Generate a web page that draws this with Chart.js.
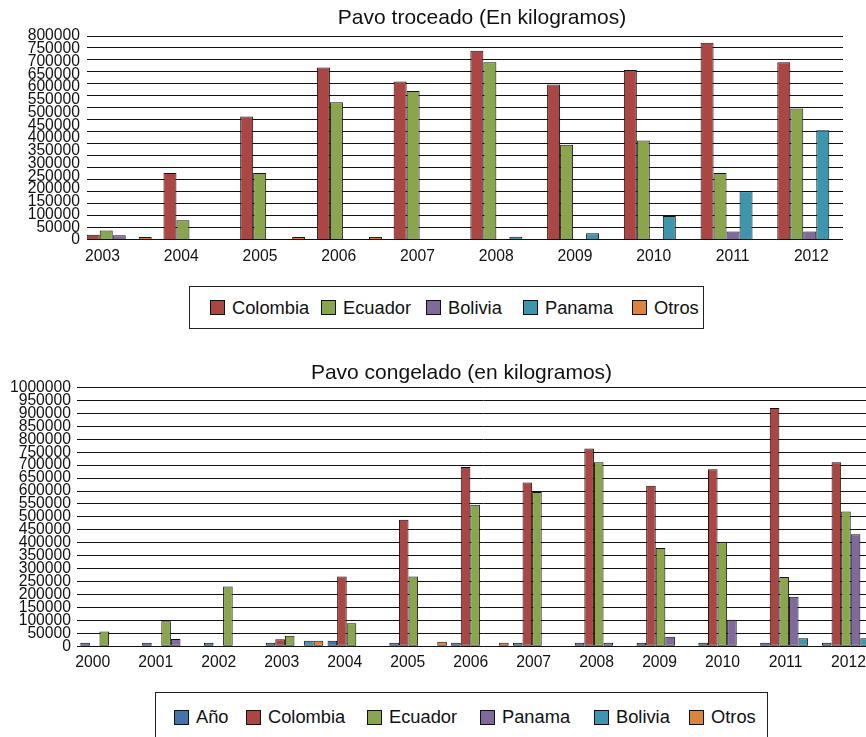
<!DOCTYPE html>
<html>
<head>
<meta charset="utf-8">
<script src="https://cdn.jsdelivr.net/npm/chart.js@4.4.1/dist/chart.umd.min.js"></script>
<style>
  html, body { margin: 0; padding: 0; background: #fff; }
  body { width: 866px; height: 737px; overflow: hidden; position: relative;
         font-family: "Liberation Sans", Arial, sans-serif; color: #111; }
  canvas { position: absolute; left: 0; }
  #c1 { top: 0; }
  #c2 { top: 350px; }
  .legend { position: absolute; box-sizing: border-box; border: 1px solid #222; font-size: 18.3px; }
  .legend .item { position: absolute; top: 50%; transform: translateY(-50%);
                  display: flex; align-items: center; white-space: nowrap; }
  .legend i { display: inline-block; width: 15px; height: 15px; box-sizing: border-box;
              border: 1px solid #111; margin-right: 7px; }
  #legend1 { left: 189px; top: 286px; width: 515px; height: 43px; }
  #legend2 { left: 155px; top: 692px; width: 613px; height: 50px; }
</style>
</head>
<body>
<canvas id="c1" width="964" height="276"></canvas>
<div id="legend1" class="legend"></div>
<canvas id="c2" width="923" height="333"></canvas>
<div id="legend2" class="legend"></div>
<script>
// Pavo troceado (kg)
const trocYears = [2003, 2004, 2005, 2006, 2007, 2008, 2009, 2010, 2011, 2012];
const trocNames = ['Colombia', 'Ecuador', 'Bolivia', 'Panama', 'Otros'];
const trocColombia = [20000, 263000, 484000, 676000, 622000, 742000, 610000, 667000, 774000, 697000];
const trocEcuador = [37000, 77000, 263000, 540000, 584000, 697000, 373000, 390000, 263000, 516000];
const trocBolivia = [18000, null, null, null, null, null, null, null, 33000, 33000];
const trocPanama = [null, null, null, null, null, 13000, 26000, 94000, 191000, 430000];
const trocOtros = [12000, null, 12000, 12000, null, null, null, null, null, null];

// Pavo congelado (kg)
const congYears = [2000, 2001, 2002, 2003, 2004, 2005, 2006, 2007, 2008, 2009, 2010, 2011, 2012];
const congNames = ['Año', 'Colombia', 'Ecuador', 'Panama', 'Bolivia', 'Otros'];
const congAno = [14000, 14000, 14000, 14000, 21000, 14000, 14000, 14000, 14000, 14000, 14000, 14000, 14000];
const congColombia = [null, null, null, 27000, 270000, 489000, 693000, 633000, 764000, 620000, 684000, 921000, 711000];
const congEcuador = [57000, 97000, 231000, 41000, 89000, 270000, 547000, 596000, 711000, 380000, 402000, 268000, 521000];
const congPanama = [null, 28000, null, null, null, null, null, null, 14000, 37000, 102000, 191000, 433000];
const congBolivia = [null, null, null, 21000, null, null, null, null, null, null, null, 31000, 31000];
const congOtros = [null, null, null, 21000, null, 17000, 14000, null, null, null, null, null, null];

const palette = ['#4572A7', '#AA4643', '#89A54E', '#80699B', '#3D96AE', '#DB843D'];

// left offset of each legend entry inside its box (px)
const legend1Left = [20, 131, 236, 333, 442];
const legend2Left = [18, 90, 211, 324, 438, 533];

Chart.defaults.font.family = '"Liberation Sans", Arial, sans-serif';
Chart.defaults.color = '#111';

const tickFont = { size: 15.7 };

function makeDatasets(names, values, colors) {
  return names.map((name, i) => ({
    label: name,
    data: values[i],
    backgroundColor: colors[i],
    borderColor: '#111',
    borderWidth: 1,
    borderSkipped: false
  }));
}

function fillLegend(id, datasets, lefts) {
  const box = document.getElementById(id);
  datasets.forEach((ds, i) => {
    const item = document.createElement('span');
    item.className = 'item';
    item.style.left = lefts[i] + 'px';
    const sw = document.createElement('i');
    sw.style.background = ds.backgroundColor;
    item.appendChild(sw);
    item.appendChild(document.createTextNode(ds.label));
    box.appendChild(item);
  });
}

// bars and year labels sit on two separate x scales, as in the original picture
function makeChart(canvasId, c) {
  const first = c.years[0], last = c.years[c.years.length - 1];
  const scales = {
    x: {
      type: 'linear', display: false, offset: false,
      min: first - c.barPad[0], max: last + c.barPad[1],
      ticks: { stepSize: 1, includeBounds: false }
    },
    x2: {
      type: 'linear', position: 'bottom', offset: false,
      min: first - c.labelPad[0], max: last + c.labelPad[1],
      grid: { display: false, drawTicks: false }, border: { display: false },
      ticks: { stepSize: 1, includeBounds: false, autoSkip: false, maxRotation: 0,
               padding: 7, font: tickFont, callback: v => String(v) }
    },
    y: {
      type: 'linear', min: 0, max: c.yMax,
      grid: { display: !c.gridMax, color: '#111', drawTicks: false },
      border: { display: false },
      ticks: { stepSize: 50000, autoSkip: false, padding: c.yPadding, font: tickFont,
               callback: v => String(v) },
      afterFit: s => { s.width = c.yWidth; }
    },
    // empty strip on the right, keeps the title centred on the whole canvas
    ySpace: {
      type: 'linear', position: 'right',
      grid: { display: false, drawTicks: false }, border: { display: false },
      ticks: { display: false },
      afterFit: s => { s.width = c.padRight; }
    }
  };
  if (c.gridMax) {
    scales.yGrid = {
      type: 'linear', position: 'left', min: 0, max: c.gridMax,
      grid: { color: '#111', drawTicks: false }, border: { display: false },
      ticks: { display: false, stepSize: 50000 },
      afterFit: s => { s.width = 0; }
    };
  }
  return new Chart(document.getElementById(canvasId), {
    type: 'bar',
    data: { labels: c.years, datasets: c.datasets },
    options: {
      responsive: false,
      animation: false,
      categoryPercentage: c.groupWidth,
      barPercentage: 1,
      layout: { padding: { bottom: c.padBottom } },
      plugins: {
        legend: { display: false },
        tooltip: { enabled: false },
        title: { display: true, text: c.title, color: '#111',
                 font: { size: 21, weight: 'normal' }, padding: c.titlePad }
      },
      scales: scales
    }
  });
}

const trocSets = makeDatasets(trocNames,
  [trocColombia, trocEcuador, trocBolivia, trocPanama, trocOtros], palette.slice(1));
const congSets = makeDatasets(congNames,
  [congAno, congColombia, congEcuador, congPanama, congBolivia, congOtros], palette);

makeChart('c1', {
  title: 'Pavo troceado (En kilogramos)',
  years: trocYears, datasets: trocSets,
  yMax: 800000, gridMax: 850000, yWidth: 87, yPadding: 7,
  groupWidth: 0.847, barPad: [0.42, 0.433], labelPad: [0.197, 0.402],
  padRight: 121, padBottom: 3.2, titlePad: { top: 5.2, bottom: 5.6 }
});

makeChart('c2', {
  title: 'Pavo congelado (en kilogramos)',
  years: congYears, datasets: congSets,
  yMax: 1000000, gridMax: null, yWidth: 77, yPadding: 6,
  groupWidth: 0.931, barPad: [0.519, 0.635], labelPad: [0.251, 0.659],
  padRight: 33, padBottom: 3.9, titlePad: { top: 10.2, bottom: 2.1 }
});

fillLegend('legend1', trocSets, legend1Left);
fillLegend('legend2', congSets, legend2Left);
</script>
</body>
</html>
